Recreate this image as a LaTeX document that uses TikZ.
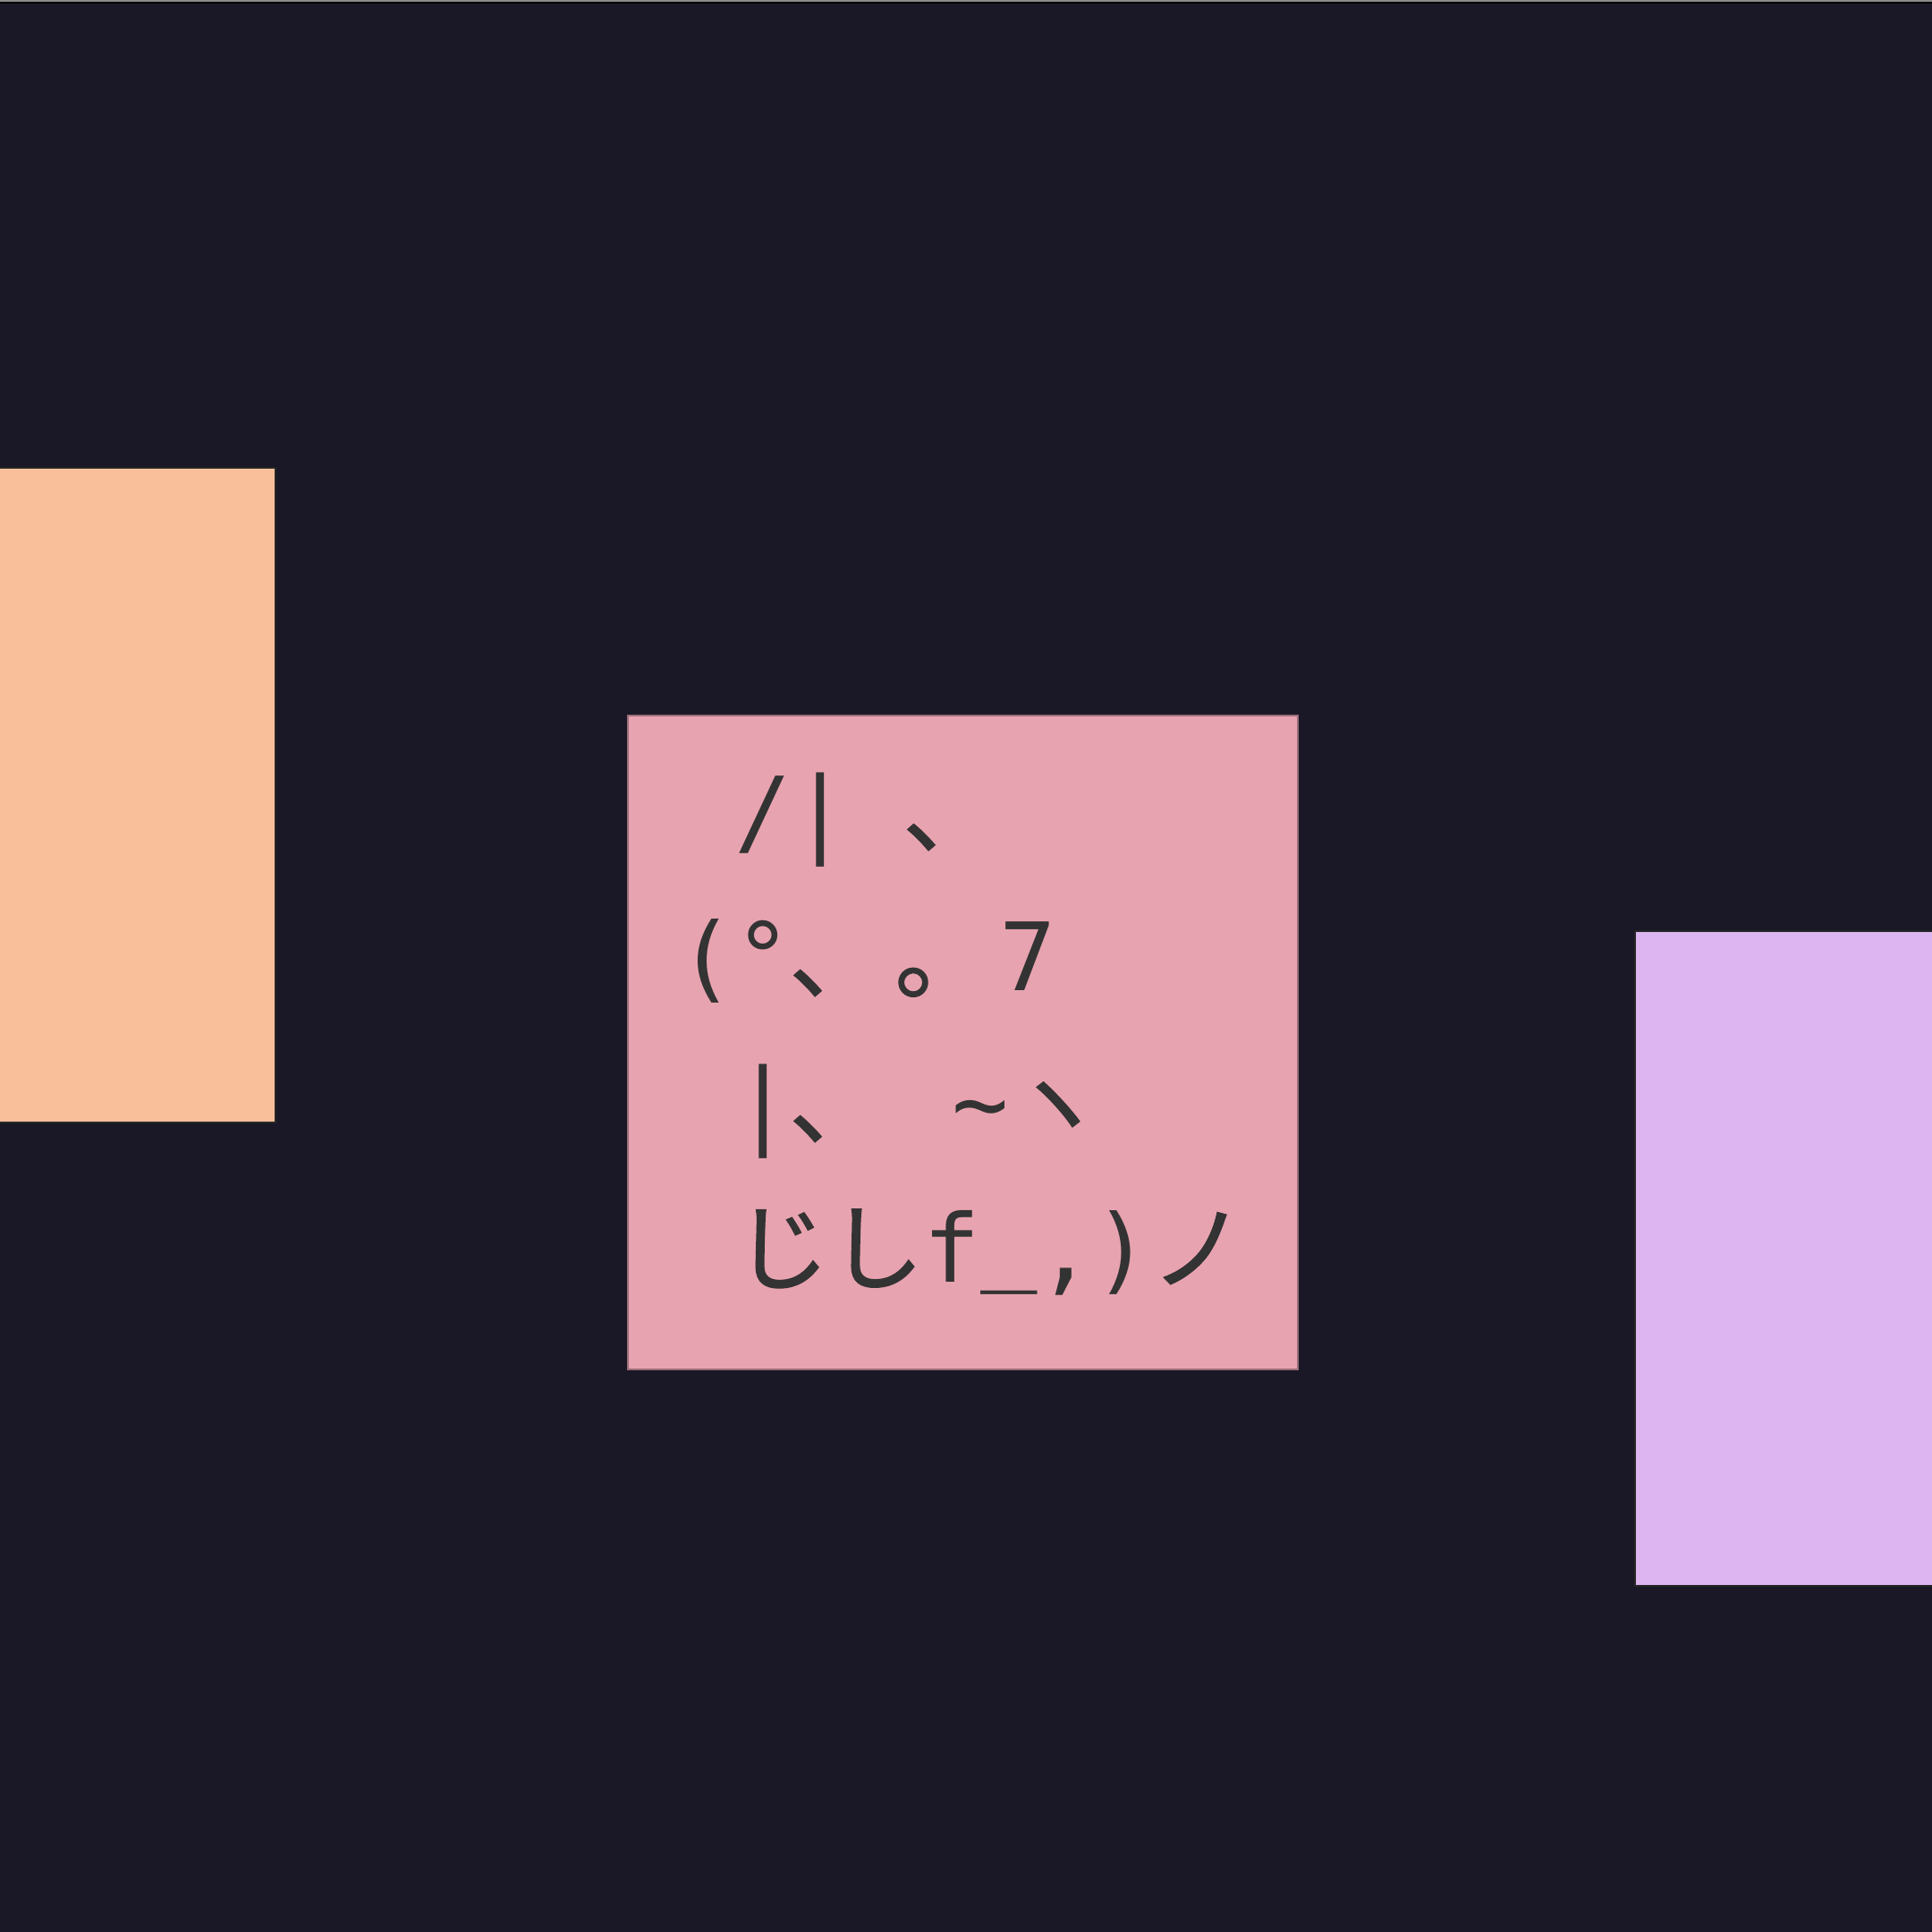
\documentclass[tikz,border=0pt]{standalone}
\usepackage{fontspec}
\newfontfamily\jpfont{Noto Sans CJK JP}[FakeBold=1.2]
\newfontfamily\latfont{DejaVu Sans Mono}
\definecolor{bgdark}{HTML}{1A1826}
\definecolor{peach}{HTML}{F9BF9A}
\definecolor{rosepink}{HTML}{E8A3B0}
\definecolor{rosedge}{HTML}{9C6F7A}
\definecolor{lavender}{HTML}{DDB6F1}
\definecolor{inkgrey}{HTML}{333333}
\newcommand\gap{\hspace{18.06pt}}
\newcommand\jp[1]{{\jpfont #1}}
\newcommand\lat[1]{{\latfont #1}}
\tikzset{
  card/.style={line width=0.02cm},
  catline/.style={anchor=base west, inner sep=0pt, text=inkgrey,
    font=\fontsize{30pt}{46pt}\selectfont}
}
\begin{document}
\begin{tikzpicture}
        \useasboundingbox (0,0) rectangle (21.6,21.6);
        \clip (0,0) rectangle (21.6,21.6);
        \fill[bgdark] (0,0) rectangle (21.6,21.6);
        \draw[black!45, line width=0.02cm] (0,21.59) -- (21.6,21.59);
        \draw[black, line width=0.02cm] (0,21.57) -- (21.6,21.57);
        % the three cards
        \draw[card, fill=peach, draw=black!85] (-4.42,16.37) rectangle (3.08,9.05);
        \draw[card, fill=rosepink, draw=rosedge] (7.02,13.60) rectangle (14.51,6.29);
        \draw[card, fill=lavender, draw=black!85] (18.28,11.19) rectangle (25.78,3.87);
        % the cat
        \begin{scope}[every node/.style={catline}]
            \node (l1) at (7.575, 12.15) {\gap\lat{/|}\gap\jp{､}};
            \node (l2) at (7.575, 10.52) {\lat{(°}\jp{､}\gap\jp{｡}\gap\lat{7}};
            \node (l3) at (7.575, 8.89) {\gap\lat{|}\jp{､}\gap\gap\lat{\symbol{126}}\jp{ヽ}};
            \node (l4) at (7.575, 7.26) {\gap\jp{じし}\lat{f\raisebox{3.4pt}{\_},)}\jp{ノ}};
        \end{scope}
    \end{tikzpicture}
\end{document}
